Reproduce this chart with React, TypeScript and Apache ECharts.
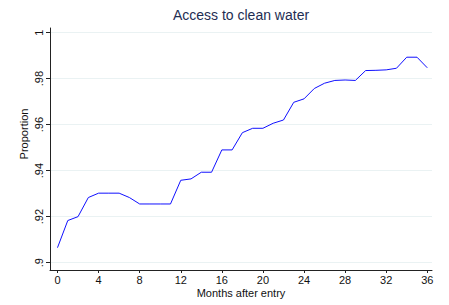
import React, { useEffect, useRef } from "react";
import * as echarts from "echarts";

const months = [0,1,2,3,4,5,6,7,8,9,10,11,12,13,14,15,16,17,18,19,20,21,22,23,24,25,26,27,28,29,30,31,32,33,34,35,36];
const proportion = [
  0.9065, 0.9183, 0.92, 0.9283, 0.9302, 0.9302, 0.9302, 0.9283, 0.9255, 0.9255,
  0.9255, 0.9255, 0.9358, 0.9364, 0.9393, 0.9393, 0.949, 0.949, 0.9565, 0.9584,
  0.9584, 0.9606, 0.962, 0.9697, 0.9712, 0.9757, 0.978, 0.9792, 0.9794, 0.9792,
  0.9835, 0.9836, 0.9838, 0.9845, 0.9893, 0.9893, 0.9847,
];
const xTicks = [0, 4, 8, 12, 16, 20, 24, 28, 32, 36];
const yTicks = [0.9, 0.92, 0.94, 0.96, 0.98, 1];
const titleText = "Access to clean water";
const xTitle = "Months after entry";
const yTitle = "Proportion";

const fmtY = (v: number) => {
  if (Math.abs(v - 1) < 1e-9) return "1";
  return v.toFixed(2).replace(/^0/, "").replace(/0$/, "");
};

export default function App() {
  const ref = useRef<HTMLDivElement>(null);
  useEffect(() => {
    if (!ref.current) return;
    const chart = echarts.init(ref.current, undefined, { renderer: "svg" });
    const font = "'Liberation Sans', Arial, sans-serif";
    chart.setOption({
      animation: false,
      backgroundColor: "#ffffff",
      textStyle: { fontFamily: font },
      grid: { left: 50, right: 17, top: 28, bottom: 35, containLabel: false },
      xAxis: {
        type: "value",
        min: -0.73,
        max: 36.46,
        axisLine: { show: true, onZero: false, lineStyle: { color: "#222", width: 1 } },
        axisTick: { show: true, inside: false, length: 3, customValues: xTicks, lineStyle: { color: "#222" } },
        axisLabel: { show: true, customValues: xTicks, color: "#111", fontSize: 11, margin: 4, fontFamily: font },
        splitLine: { show: false },
      },
      yAxis: {
        type: "value",
        min: 0.8968,
        max: 1.002,
        axisLine: { show: true, onZero: false, lineStyle: { color: "#222", width: 1 } },
        axisTick: { show: true, inside: false, length: 4, customValues: yTicks, lineStyle: { color: "#222" } },
        axisLabel: {
          show: true,
          customValues: yTicks,
          rotate: 90,
          color: "#111",
          fontSize: 11,
          margin: 6,
          fontFamily: font,
          formatter: (v: number) => fmtY(v),
        },
        splitLine: { show: true, lineStyle: { color: "#eaf2f3", width: 1.2 } },
      },
      graphic: [
        {
          type: "text",
          x: 241,
          y: 15,
          style: { text: titleText, fill: "#1e2d53", font: `14px ${font}`, align: "center", verticalAlign: "middle" },
        },
        {
          type: "text",
          x: 241,
          y: 293,
          style: { text: xTitle, fill: "#111", font: `11px ${font}`, align: "center", verticalAlign: "middle" },
        },
        {
          type: "text",
          x: 24,
          y: 134,
          rotation: Math.PI / 2,
          style: { text: yTitle, fill: "#111", font: `11px ${font}`, align: "center", verticalAlign: "middle" },
        },
      ],
      series: [
        {
          type: "line",
          data: months.map((m, i) => [m, proportion[i]]),
          symbol: "none",
          lineStyle: { color: "#1010ff", width: 1 },
        },
      ],
    });
    return () => chart.dispose();
  }, []);
  return <div ref={ref} style={{ width: 449, height: 305, position: "absolute", left: 0, top: 0 }} />;
}
